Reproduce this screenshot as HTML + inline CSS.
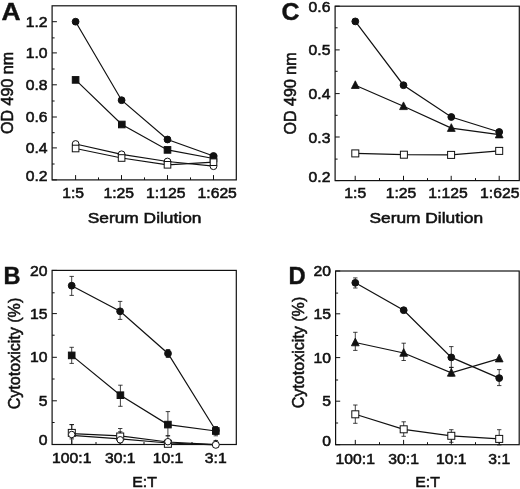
<!DOCTYPE html><html><head><meta charset="utf-8"><title>Figure</title>
<style>html,body{margin:0;padding:0;background:#fff;}svg{display:block;}text{font-family:"Liberation Sans",Arial,Helvetica,sans-serif;fill:#111;}.t,.tc{font-size:14.7px;stroke:#111;stroke-width:.55px;}.ax,.axc{font-size:15.5px;stroke:#111;stroke-width:.55px;}.p{font-size:24px;font-weight:bold;stroke:#111;stroke-width:.4px;}</style></head><body>
<svg width="520" height="489" viewBox="0 0 520 489">
<rect width="520" height="489" fill="#fff"/>
<rect x="52.1" y="5.8" width="184.2" height="174.1" fill="none" stroke="#111" stroke-width="1.2"/>
<line x1="52.1" y1="21.7" x2="56.9" y2="21.7" stroke="#111" stroke-width="1"/>
<text transform="translate(47.6,26.8) scale(1.07,1)" class="t" text-anchor="end">1.2</text>
<line x1="52.1" y1="52.9" x2="56.9" y2="52.9" stroke="#111" stroke-width="1"/>
<text transform="translate(47.6,58) scale(1.07,1)" class="t" text-anchor="end">1.0</text>
<line x1="52.1" y1="84.8" x2="56.9" y2="84.8" stroke="#111" stroke-width="1"/>
<text transform="translate(47.6,89.9) scale(1.07,1)" class="t" text-anchor="end">0.8</text>
<line x1="52.1" y1="117" x2="56.9" y2="117" stroke="#111" stroke-width="1"/>
<text transform="translate(47.6,122.1) scale(1.07,1)" class="t" text-anchor="end">0.6</text>
<line x1="52.1" y1="147.9" x2="56.9" y2="147.9" stroke="#111" stroke-width="1"/>
<text transform="translate(47.6,153) scale(1.07,1)" class="t" text-anchor="end">0.4</text>
<line x1="52.1" y1="179.9" x2="56.9" y2="179.9" stroke="#111" stroke-width="1"/>
<text transform="translate(47.6,181.3) scale(1.07,1)" class="t" text-anchor="end">0.2</text>
<line x1="52.1" y1="37.9" x2="54.6" y2="37.9" stroke="#111" stroke-width="1"/>
<line x1="52.1" y1="69" x2="54.6" y2="69" stroke="#111" stroke-width="1"/>
<line x1="52.1" y1="101" x2="54.6" y2="101" stroke="#111" stroke-width="1"/>
<line x1="52.1" y1="132.7" x2="54.6" y2="132.7" stroke="#111" stroke-width="1"/>
<line x1="52.1" y1="164" x2="54.6" y2="164" stroke="#111" stroke-width="1"/>
<line x1="75.6" y1="179.9" x2="75.6" y2="175.1" stroke="#111" stroke-width="1"/>
<text transform="translate(73.1,198) scale(1.07,1)" class="t" text-anchor="middle">1:5</text>
<line x1="121.5" y1="179.9" x2="121.5" y2="175.1" stroke="#111" stroke-width="1"/>
<text transform="translate(118.7,198) scale(1.07,1)" class="t" text-anchor="middle">1:25</text>
<line x1="167.5" y1="179.9" x2="167.5" y2="175.1" stroke="#111" stroke-width="1"/>
<text transform="translate(165.8,198) scale(1.07,1)" class="t" text-anchor="middle">1:125</text>
<line x1="213.5" y1="179.9" x2="213.5" y2="175.1" stroke="#111" stroke-width="1"/>
<text transform="translate(217.2,198) scale(1.07,1)" class="t" text-anchor="middle">1:625</text>
<line x1="98.5" y1="179.9" x2="98.5" y2="177.4" stroke="#111" stroke-width="1"/>
<line x1="144.5" y1="179.9" x2="144.5" y2="177.4" stroke="#111" stroke-width="1"/>
<line x1="190.5" y1="179.9" x2="190.5" y2="177.4" stroke="#111" stroke-width="1"/>
<text transform="translate(144.6,223) scale(1.12,1)" class="ax" text-anchor="middle">Serum Dilution</text>
<text transform="translate(13.3,92.9) rotate(-90) scale(0.98,1)" class="ax" style="font-size:16.4px" text-anchor="middle">OD 490 nm</text>
<text transform="translate(1.5,19.75) scale(1.1,1)" class="p" text-anchor="start">A</text>
<polyline points="75.6,21.7 121.6,100.2 167.5,139.5 213.5,156" fill="none" stroke="#111" stroke-width="1.2"/>
<polyline points="75.6,79.9 121.8,124.5 167.5,149.9 213.5,158.5" fill="none" stroke="#111" stroke-width="1.2"/>
<polyline points="75.6,148.5 121.6,158 167.5,164.8 213.5,162.2" fill="none" stroke="#111" stroke-width="1.2"/>
<polyline points="75.6,144 121.6,154.3 167.5,161.5 213.5,166.2" fill="none" stroke="#111" stroke-width="1.2"/>
<circle cx="75.6" cy="144" r="3.4" fill="#fff" stroke="#111" stroke-width="1"/>
<circle cx="121.6" cy="154.3" r="3.4" fill="#fff" stroke="#111" stroke-width="1"/>
<circle cx="167.5" cy="161.5" r="3.4" fill="#fff" stroke="#111" stroke-width="1"/>
<circle cx="213.5" cy="166.2" r="3.4" fill="#fff" stroke="#111" stroke-width="1"/>
<rect x="72.3" y="76.6" width="6.6" height="6.6" fill="#111" stroke="#111" stroke-width="1"/>
<rect x="118.5" y="121.2" width="6.6" height="6.6" fill="#111" stroke="#111" stroke-width="1"/>
<rect x="164.2" y="146.6" width="6.6" height="6.6" fill="#111" stroke="#111" stroke-width="1"/>
<rect x="210.2" y="155.2" width="6.6" height="6.6" fill="#111" stroke="#111" stroke-width="1"/>
<circle cx="75.6" cy="21.7" r="3.4" fill="#111" stroke="#111" stroke-width="1"/>
<circle cx="121.6" cy="100.2" r="3.4" fill="#111" stroke="#111" stroke-width="1"/>
<circle cx="167.5" cy="139.5" r="3.4" fill="#111" stroke="#111" stroke-width="1"/>
<circle cx="213.5" cy="156" r="3.4" fill="#111" stroke="#111" stroke-width="1"/>
<rect x="72.3" y="145.2" width="6.6" height="6.6" fill="#fff" stroke="#111" stroke-width="1"/>
<rect x="118.3" y="154.7" width="6.6" height="6.6" fill="#fff" stroke="#111" stroke-width="1"/>
<rect x="164.2" y="161.5" width="6.6" height="6.6" fill="#fff" stroke="#111" stroke-width="1"/>
<rect x="210.2" y="158.9" width="6.6" height="6.6" fill="#fff" stroke="#111" stroke-width="1"/>
<rect x="335.1" y="6.2" width="184.2" height="174.4" fill="none" stroke="#111" stroke-width="1.2"/>
<line x1="335.1" y1="6.2" x2="339.7" y2="6.2" stroke="#111" stroke-width="1"/>
<text transform="translate(330.4,11.8) scale(1.07,1)" class="tc" text-anchor="end">0.6</text>
<line x1="335.1" y1="49.9" x2="339.7" y2="49.9" stroke="#111" stroke-width="1"/>
<text transform="translate(330.4,54.8) scale(1.07,1)" class="tc" text-anchor="end">0.5</text>
<line x1="335.1" y1="93.6" x2="339.7" y2="93.6" stroke="#111" stroke-width="1"/>
<text transform="translate(330.4,98.8) scale(1.07,1)" class="tc" text-anchor="end">0.4</text>
<line x1="335.1" y1="137" x2="339.7" y2="137" stroke="#111" stroke-width="1"/>
<text transform="translate(330.4,142.8) scale(1.07,1)" class="tc" text-anchor="end">0.3</text>
<line x1="335.1" y1="180.6" x2="339.7" y2="180.6" stroke="#111" stroke-width="1"/>
<text transform="translate(330.4,181.7) scale(1.07,1)" class="tc" text-anchor="end">0.2</text>
<line x1="335.1" y1="27.8" x2="337.6" y2="27.8" stroke="#111" stroke-width="1"/>
<line x1="335.1" y1="71.3" x2="337.6" y2="71.3" stroke="#111" stroke-width="1"/>
<line x1="335.1" y1="115.3" x2="337.6" y2="115.3" stroke="#111" stroke-width="1"/>
<line x1="335.1" y1="159.1" x2="337.6" y2="159.1" stroke="#111" stroke-width="1"/>
<line x1="355.2" y1="180.6" x2="355.2" y2="175.8" stroke="#111" stroke-width="1"/>
<text transform="translate(355.2,198.2) scale(1.07,1)" class="tc" text-anchor="middle">1:5</text>
<line x1="403.5" y1="180.6" x2="403.5" y2="175.8" stroke="#111" stroke-width="1"/>
<text transform="translate(401,198.2) scale(1.07,1)" class="tc" text-anchor="middle">1:25</text>
<line x1="451.2" y1="180.6" x2="451.2" y2="175.8" stroke="#111" stroke-width="1"/>
<text transform="translate(448,198.2) scale(1.07,1)" class="tc" text-anchor="middle">1:125</text>
<line x1="499.2" y1="180.6" x2="499.2" y2="175.8" stroke="#111" stroke-width="1"/>
<text transform="translate(499.8,198.2) scale(1.07,1)" class="tc" text-anchor="middle">1:625</text>
<line x1="379.5" y1="180.6" x2="379.5" y2="178.1" stroke="#111" stroke-width="1"/>
<line x1="427.5" y1="180.6" x2="427.5" y2="178.1" stroke="#111" stroke-width="1"/>
<line x1="475.5" y1="180.6" x2="475.5" y2="178.1" stroke="#111" stroke-width="1"/>
<text transform="translate(426.3,223) scale(1.12,1)" class="axc" text-anchor="middle">Serum Dilution</text>
<text transform="translate(295.6,93.4) rotate(-90) scale(0.98,1)" class="axc" style="font-size:16.4px" text-anchor="middle">OD 490 nm</text>
<text transform="translate(281.6,19.5) scale(1.04,1)" class="p" text-anchor="start">C</text>
<polyline points="355.3,21.4 403.5,85.2 451.3,117 499.2,132" fill="none" stroke="#111" stroke-width="1.2"/>
<polyline points="355.3,85.2 403.5,106.3 451.3,128.1 499.2,134.6" fill="none" stroke="#111" stroke-width="1.2"/>
<polyline points="355.3,153.4 403.9,154.7 451.1,154.9 499.2,150.9" fill="none" stroke="#111" stroke-width="1.2"/>
<polygon points="355.3,80.8 351.4,88.5 359.2,88.5" fill="#111" stroke="#111" stroke-width="0.8" stroke-linejoin="round"/>
<polygon points="403.5,101.9 399.6,109.6 407.4,109.6" fill="#111" stroke="#111" stroke-width="0.8" stroke-linejoin="round"/>
<polygon points="451.3,123.7 447.4,131.4 455.2,131.4" fill="#111" stroke="#111" stroke-width="0.8" stroke-linejoin="round"/>
<polygon points="499.2,130.2 495.3,137.9 503.1,137.9" fill="#111" stroke="#111" stroke-width="0.8" stroke-linejoin="round"/>
<circle cx="355.3" cy="21.4" r="3.4" fill="#111" stroke="#111" stroke-width="1"/>
<circle cx="403.5" cy="85.2" r="3.4" fill="#111" stroke="#111" stroke-width="1"/>
<circle cx="451.3" cy="117" r="3.4" fill="#111" stroke="#111" stroke-width="1"/>
<circle cx="499.2" cy="132" r="3.4" fill="#111" stroke="#111" stroke-width="1"/>
<rect x="351.8" y="149.9" width="7.0" height="7.0" fill="#fff" stroke="#111" stroke-width="1"/>
<rect x="400.4" y="151.2" width="7.0" height="7.0" fill="#fff" stroke="#111" stroke-width="1"/>
<rect x="447.6" y="151.4" width="7.0" height="7.0" fill="#fff" stroke="#111" stroke-width="1"/>
<rect x="495.7" y="147.4" width="7.0" height="7.0" fill="#fff" stroke="#111" stroke-width="1"/>
<rect x="52.1" y="270.4" width="184.2" height="174.1" fill="none" stroke="#111" stroke-width="1.2"/>
<line x1="52.1" y1="270.4" x2="56.9" y2="270.4" stroke="#111" stroke-width="1"/>
<text transform="translate(47.4,275.5) scale(1.07,1)" class="t" text-anchor="end">20</text>
<line x1="52.1" y1="313.6" x2="56.9" y2="313.6" stroke="#111" stroke-width="1"/>
<text transform="translate(47.4,318.7) scale(1.07,1)" class="t" text-anchor="end">15</text>
<line x1="52.1" y1="357.3" x2="56.9" y2="357.3" stroke="#111" stroke-width="1"/>
<text transform="translate(47.4,362.4) scale(1.07,1)" class="t" text-anchor="end">10</text>
<line x1="52.1" y1="400.8" x2="56.9" y2="400.8" stroke="#111" stroke-width="1"/>
<text transform="translate(47.4,405.9) scale(1.07,1)" class="t" text-anchor="end">5</text>
<line x1="52.1" y1="444.5" x2="56.9" y2="444.5" stroke="#111" stroke-width="1"/>
<text transform="translate(47.4,445.2) scale(1.07,1)" class="t" text-anchor="end">0</text>
<line x1="52.1" y1="292.8" x2="54.6" y2="292.8" stroke="#111" stroke-width="1"/>
<line x1="52.1" y1="335.2" x2="54.6" y2="335.2" stroke="#111" stroke-width="1"/>
<line x1="52.1" y1="379" x2="54.6" y2="379" stroke="#111" stroke-width="1"/>
<line x1="52.1" y1="422.5" x2="54.6" y2="422.5" stroke="#111" stroke-width="1"/>
<line x1="71.8" y1="444.5" x2="71.8" y2="439.7" stroke="#111" stroke-width="1"/>
<text transform="translate(71.8,463.2) scale(1.07,1)" class="t" text-anchor="middle">100:1</text>
<line x1="120.2" y1="444.5" x2="120.2" y2="439.7" stroke="#111" stroke-width="1"/>
<text transform="translate(120.2,463.2) scale(1.07,1)" class="t" text-anchor="middle">30:1</text>
<line x1="168" y1="444.5" x2="168" y2="439.7" stroke="#111" stroke-width="1"/>
<text transform="translate(168,463.2) scale(1.07,1)" class="t" text-anchor="middle">10:1</text>
<line x1="215.8" y1="444.5" x2="215.8" y2="439.7" stroke="#111" stroke-width="1"/>
<text transform="translate(215.8,463.2) scale(1.07,1)" class="t" text-anchor="middle">3:1</text>
<line x1="96" y1="444.5" x2="96" y2="442" stroke="#111" stroke-width="1"/>
<line x1="144" y1="444.5" x2="144" y2="442" stroke="#111" stroke-width="1"/>
<line x1="192" y1="444.5" x2="192" y2="442" stroke="#111" stroke-width="1"/>
<text transform="translate(144.6,486.5) scale(1.02,1)" class="ax" text-anchor="middle">E:T</text>
<text transform="translate(20,353.5) rotate(-90) scale(0.98,1)" class="ax" style="font-size:16.4px" text-anchor="middle">Cytotoxicity (%)</text>
<text transform="translate(3.5,284.3) scale(0.98,1)" class="p" text-anchor="start">B</text>
<line x1="71.7" y1="276.4" x2="71.7" y2="295.4" stroke="#111" stroke-width="0.8"/>
<line x1="69.5" y1="276.4" x2="73.9" y2="276.4" stroke="#111" stroke-width="0.8"/>
<line x1="69.5" y1="295.4" x2="73.9" y2="295.4" stroke="#111" stroke-width="0.8"/>
<line x1="120.1" y1="301.4" x2="120.1" y2="319.4" stroke="#111" stroke-width="0.8"/>
<line x1="117.9" y1="301.4" x2="122.3" y2="301.4" stroke="#111" stroke-width="0.8"/>
<line x1="117.9" y1="319.4" x2="122.3" y2="319.4" stroke="#111" stroke-width="0.8"/>
<line x1="168" y1="349.5" x2="168" y2="357.5" stroke="#111" stroke-width="0.8"/>
<line x1="165.8" y1="349.5" x2="170.2" y2="349.5" stroke="#111" stroke-width="0.8"/>
<line x1="165.8" y1="357.5" x2="170.2" y2="357.5" stroke="#111" stroke-width="0.8"/>
<line x1="215.8" y1="426.5" x2="215.8" y2="434.5" stroke="#111" stroke-width="0.8"/>
<line x1="213.6" y1="426.5" x2="218" y2="426.5" stroke="#111" stroke-width="0.8"/>
<line x1="213.6" y1="434.5" x2="218" y2="434.5" stroke="#111" stroke-width="0.8"/>
<line x1="71.7" y1="347.3" x2="71.7" y2="363.4" stroke="#111" stroke-width="0.8"/>
<line x1="69.5" y1="347.3" x2="73.9" y2="347.3" stroke="#111" stroke-width="0.8"/>
<line x1="69.5" y1="363.4" x2="73.9" y2="363.4" stroke="#111" stroke-width="0.8"/>
<line x1="120.4" y1="385.2" x2="120.4" y2="406.3" stroke="#111" stroke-width="0.8"/>
<line x1="118.2" y1="385.2" x2="122.6" y2="385.2" stroke="#111" stroke-width="0.8"/>
<line x1="118.2" y1="406.3" x2="122.6" y2="406.3" stroke="#111" stroke-width="0.8"/>
<line x1="167.9" y1="411.6" x2="167.9" y2="435.8" stroke="#111" stroke-width="0.8"/>
<line x1="165.7" y1="411.6" x2="170.1" y2="411.6" stroke="#111" stroke-width="0.8"/>
<line x1="165.7" y1="435.8" x2="170.1" y2="435.8" stroke="#111" stroke-width="0.8"/>
<line x1="215.8" y1="427" x2="215.8" y2="435.8" stroke="#111" stroke-width="0.8"/>
<line x1="213.6" y1="427" x2="218" y2="427" stroke="#111" stroke-width="0.8"/>
<line x1="213.6" y1="435.8" x2="218" y2="435.8" stroke="#111" stroke-width="0.8"/>
<line x1="71.8" y1="424.6" x2="71.8" y2="438.9" stroke="#111" stroke-width="0.8"/>
<line x1="69.6" y1="424.6" x2="74" y2="424.6" stroke="#111" stroke-width="0.8"/>
<line x1="69.6" y1="438.9" x2="74" y2="438.9" stroke="#111" stroke-width="0.8"/>
<line x1="120.2" y1="428.5" x2="120.2" y2="442.5" stroke="#111" stroke-width="0.8"/>
<line x1="118" y1="428.5" x2="122.4" y2="428.5" stroke="#111" stroke-width="0.8"/>
<line x1="118" y1="442.5" x2="122.4" y2="442.5" stroke="#111" stroke-width="0.8"/>
<line x1="71.7" y1="424.6" x2="71.7" y2="444.5" stroke="#111" stroke-width="0.8"/>
<line x1="69.5" y1="424.6" x2="73.9" y2="424.6" stroke="#111" stroke-width="0.8"/>
<line x1="69.5" y1="444.5" x2="73.9" y2="444.5" stroke="#111" stroke-width="0.8"/>
<line x1="120.2" y1="431.8" x2="120.2" y2="444.3" stroke="#111" stroke-width="0.8"/>
<line x1="118" y1="431.8" x2="122.4" y2="431.8" stroke="#111" stroke-width="0.8"/>
<line x1="118" y1="444.3" x2="122.4" y2="444.3" stroke="#111" stroke-width="0.8"/>
<line x1="167.9" y1="435.8" x2="167.9" y2="444.7" stroke="#111" stroke-width="0.8"/>
<line x1="165.7" y1="435.8" x2="170.1" y2="435.8" stroke="#111" stroke-width="0.8"/>
<line x1="165.7" y1="444.7" x2="170.1" y2="444.7" stroke="#111" stroke-width="0.8"/>
<line x1="215.8" y1="440.5" x2="215.8" y2="445.8" stroke="#111" stroke-width="0.8"/>
<line x1="213.6" y1="440.5" x2="218" y2="440.5" stroke="#111" stroke-width="0.8"/>
<line x1="213.6" y1="445.8" x2="218" y2="445.8" stroke="#111" stroke-width="0.8"/>
<polyline points="71.7,285.7 120.1,311.3 168,353.5 215.8,430.5" fill="none" stroke="#111" stroke-width="1.2"/>
<polyline points="71.7,355.4 120.4,395.2 167.9,424.6 215.8,431" fill="none" stroke="#111" stroke-width="1.2"/>
<polyline points="71.8,433.6 120.2,435.8 167.9,442 215.8,444.6" fill="none" stroke="#111" stroke-width="1.2"/>
<polyline points="71.7,435.3 120.2,438.8 167.9,443 215.8,444.8" fill="none" stroke="#111" stroke-width="1.2"/>
<rect x="68.4" y="352.1" width="6.6" height="6.6" fill="#111" stroke="#111" stroke-width="1"/>
<rect x="117.1" y="391.9" width="6.6" height="6.6" fill="#111" stroke="#111" stroke-width="1"/>
<rect x="164.6" y="421.3" width="6.6" height="6.6" fill="#111" stroke="#111" stroke-width="1"/>
<rect x="212.5" y="427.7" width="6.6" height="6.6" fill="#111" stroke="#111" stroke-width="1"/>
<circle cx="71.7" cy="285.7" r="3.4" fill="#111" stroke="#111" stroke-width="1"/>
<circle cx="120.1" cy="311.3" r="3.4" fill="#111" stroke="#111" stroke-width="1"/>
<circle cx="168" cy="353.5" r="3.4" fill="#111" stroke="#111" stroke-width="1"/>
<circle cx="215.8" cy="430.5" r="3.4" fill="#111" stroke="#111" stroke-width="1"/>
<rect x="68.3" y="429.4" width="7.0" height="7.0" fill="#fff" stroke="#111" stroke-width="1"/>
<rect x="116.7" y="433" width="7.0" height="7.0" fill="#fff" stroke="#111" stroke-width="1"/>
<rect x="164.4" y="440.3" width="7.0" height="7.0" fill="#fff" stroke="#111" stroke-width="1"/>
<rect x="213.4" y="442.2" width="4.8" height="4.8" fill="#fff" stroke="#111" stroke-width="1"/>
<circle cx="71.7" cy="434.5" r="3.25" fill="#fff" stroke="#111" stroke-width="1"/>
<circle cx="120.2" cy="439.8" r="3.25" fill="#fff" stroke="#111" stroke-width="1"/>
<circle cx="167.9" cy="441.7" r="3.25" fill="#fff" stroke="#111" stroke-width="1"/>
<circle cx="215.8" cy="444.8" r="3.5" fill="#fff" stroke="#111" stroke-width="1"/>
<rect x="335.6" y="271" width="183.6" height="173.7" fill="none" stroke="#111" stroke-width="1.2"/>
<line x1="335.6" y1="271" x2="340.2" y2="271" stroke="#111" stroke-width="1"/>
<text transform="translate(330.9,276.2) scale(1.07,1)" class="tc" text-anchor="end">20</text>
<line x1="335.6" y1="313.8" x2="340.2" y2="313.8" stroke="#111" stroke-width="1"/>
<text transform="translate(330.9,319) scale(1.07,1)" class="tc" text-anchor="end">15</text>
<line x1="335.6" y1="357.6" x2="340.2" y2="357.6" stroke="#111" stroke-width="1"/>
<text transform="translate(330.9,362.8) scale(1.07,1)" class="tc" text-anchor="end">10</text>
<line x1="335.6" y1="401.2" x2="340.2" y2="401.2" stroke="#111" stroke-width="1"/>
<text transform="translate(330.9,406.4) scale(1.07,1)" class="tc" text-anchor="end">5</text>
<line x1="335.6" y1="444.7" x2="340.2" y2="444.7" stroke="#111" stroke-width="1"/>
<text transform="translate(330.9,445.8) scale(1.07,1)" class="tc" text-anchor="end">0</text>
<line x1="335.6" y1="293.1" x2="338.1" y2="293.1" stroke="#111" stroke-width="1"/>
<line x1="335.6" y1="335.5" x2="338.1" y2="335.5" stroke="#111" stroke-width="1"/>
<line x1="335.6" y1="380" x2="338.1" y2="380" stroke="#111" stroke-width="1"/>
<line x1="335.6" y1="423" x2="338.1" y2="423" stroke="#111" stroke-width="1"/>
<line x1="355.3" y1="444.7" x2="355.3" y2="439.9" stroke="#111" stroke-width="1"/>
<text transform="translate(355.3,463.5) scale(1.07,1)" class="tc" text-anchor="middle">100:1</text>
<line x1="403.6" y1="444.7" x2="403.6" y2="439.9" stroke="#111" stroke-width="1"/>
<text transform="translate(403.6,463.5) scale(1.07,1)" class="tc" text-anchor="middle">30:1</text>
<line x1="451.3" y1="444.7" x2="451.3" y2="439.9" stroke="#111" stroke-width="1"/>
<text transform="translate(451.3,463.5) scale(1.07,1)" class="tc" text-anchor="middle">10:1</text>
<line x1="499.2" y1="444.7" x2="499.2" y2="439.9" stroke="#111" stroke-width="1"/>
<text transform="translate(499.2,463.5) scale(1.07,1)" class="tc" text-anchor="middle">3:1</text>
<line x1="379.5" y1="444.7" x2="379.5" y2="442.2" stroke="#111" stroke-width="1"/>
<line x1="427.5" y1="444.7" x2="427.5" y2="442.2" stroke="#111" stroke-width="1"/>
<line x1="475.5" y1="444.7" x2="475.5" y2="442.2" stroke="#111" stroke-width="1"/>
<text transform="translate(427.5,486.5) scale(1.02,1)" class="axc" text-anchor="middle">E:T</text>
<text transform="translate(303.5,352.5) rotate(-90) scale(0.98,1)" class="axc" style="font-size:16.4px" text-anchor="middle">Cytotoxicity (%)</text>
<text transform="translate(288.6,284.3) scale(0.99,1)" class="p" text-anchor="start">D</text>
<line x1="355.3" y1="277.9" x2="355.3" y2="288" stroke="#111" stroke-width="0.8"/>
<line x1="353.1" y1="277.9" x2="357.5" y2="277.9" stroke="#111" stroke-width="0.8"/>
<line x1="353.1" y1="288" x2="357.5" y2="288" stroke="#111" stroke-width="0.8"/>
<line x1="403.7" y1="308.2" x2="403.7" y2="312.2" stroke="#111" stroke-width="0.8"/>
<line x1="401.5" y1="308.2" x2="405.9" y2="308.2" stroke="#111" stroke-width="0.8"/>
<line x1="401.5" y1="312.2" x2="405.9" y2="312.2" stroke="#111" stroke-width="0.8"/>
<line x1="451.3" y1="346.6" x2="451.3" y2="367.4" stroke="#111" stroke-width="0.8"/>
<line x1="449.1" y1="346.6" x2="453.5" y2="346.6" stroke="#111" stroke-width="0.8"/>
<line x1="449.1" y1="367.4" x2="453.5" y2="367.4" stroke="#111" stroke-width="0.8"/>
<line x1="499.2" y1="369.6" x2="499.2" y2="385.6" stroke="#111" stroke-width="0.8"/>
<line x1="497" y1="369.6" x2="501.4" y2="369.6" stroke="#111" stroke-width="0.8"/>
<line x1="497" y1="385.6" x2="501.4" y2="385.6" stroke="#111" stroke-width="0.8"/>
<line x1="355.3" y1="332.3" x2="355.3" y2="350.4" stroke="#111" stroke-width="0.8"/>
<line x1="353.1" y1="332.3" x2="357.5" y2="332.3" stroke="#111" stroke-width="0.8"/>
<line x1="353.1" y1="350.4" x2="357.5" y2="350.4" stroke="#111" stroke-width="0.8"/>
<line x1="403.7" y1="343.2" x2="403.7" y2="360.5" stroke="#111" stroke-width="0.8"/>
<line x1="401.5" y1="343.2" x2="405.9" y2="343.2" stroke="#111" stroke-width="0.8"/>
<line x1="401.5" y1="360.5" x2="405.9" y2="360.5" stroke="#111" stroke-width="0.8"/>
<line x1="451.3" y1="367.4" x2="451.3" y2="375.9" stroke="#111" stroke-width="0.8"/>
<line x1="449.1" y1="367.4" x2="453.5" y2="367.4" stroke="#111" stroke-width="0.8"/>
<line x1="449.1" y1="375.9" x2="453.5" y2="375.9" stroke="#111" stroke-width="0.8"/>
<line x1="355.3" y1="405" x2="355.3" y2="423.3" stroke="#111" stroke-width="0.8"/>
<line x1="353.1" y1="405" x2="357.5" y2="405" stroke="#111" stroke-width="0.8"/>
<line x1="353.1" y1="423.3" x2="357.5" y2="423.3" stroke="#111" stroke-width="0.8"/>
<line x1="403.7" y1="421.8" x2="403.7" y2="436.3" stroke="#111" stroke-width="0.8"/>
<line x1="401.5" y1="421.8" x2="405.9" y2="421.8" stroke="#111" stroke-width="0.8"/>
<line x1="401.5" y1="436.3" x2="405.9" y2="436.3" stroke="#111" stroke-width="0.8"/>
<line x1="451.3" y1="429.7" x2="451.3" y2="442.3" stroke="#111" stroke-width="0.8"/>
<line x1="449.1" y1="429.7" x2="453.5" y2="429.7" stroke="#111" stroke-width="0.8"/>
<line x1="449.1" y1="442.3" x2="453.5" y2="442.3" stroke="#111" stroke-width="0.8"/>
<line x1="499.2" y1="429.7" x2="499.2" y2="444.9" stroke="#111" stroke-width="0.8"/>
<line x1="497" y1="429.7" x2="501.4" y2="429.7" stroke="#111" stroke-width="0.8"/>
<line x1="497" y1="444.9" x2="501.4" y2="444.9" stroke="#111" stroke-width="0.8"/>
<polyline points="355.3,282.8 403.7,310.2 451.3,357.4 499.2,378.1" fill="none" stroke="#111" stroke-width="1.2"/>
<polyline points="355.3,342.5 403.7,353 451.3,372.9 499.2,358.6" fill="none" stroke="#111" stroke-width="1.2"/>
<polyline points="355.3,414.3 403.7,429.3 451.3,435.8 499.2,438.9" fill="none" stroke="#111" stroke-width="1.2"/>
<polygon points="355.3,338.1 351.4,345.8 359.2,345.8" fill="#111" stroke="#111" stroke-width="0.8" stroke-linejoin="round"/>
<polygon points="403.7,348.6 399.8,356.3 407.6,356.3" fill="#111" stroke="#111" stroke-width="0.8" stroke-linejoin="round"/>
<polygon points="451.3,368.5 447.4,376.2 455.2,376.2" fill="#111" stroke="#111" stroke-width="0.8" stroke-linejoin="round"/>
<polygon points="499.2,354.2 495.3,361.9 503.1,361.9" fill="#111" stroke="#111" stroke-width="0.8" stroke-linejoin="round"/>
<circle cx="355.3" cy="282.8" r="3.4" fill="#111" stroke="#111" stroke-width="1"/>
<circle cx="403.7" cy="310.2" r="3.4" fill="#111" stroke="#111" stroke-width="1"/>
<circle cx="451.3" cy="357.4" r="3.4" fill="#111" stroke="#111" stroke-width="1"/>
<circle cx="499.2" cy="378.1" r="3.4" fill="#111" stroke="#111" stroke-width="1"/>
<rect x="351.8" y="410.8" width="7.0" height="7.0" fill="#fff" stroke="#111" stroke-width="1"/>
<rect x="400.2" y="425.8" width="7.0" height="7.0" fill="#fff" stroke="#111" stroke-width="1"/>
<rect x="447.8" y="432.3" width="7.0" height="7.0" fill="#fff" stroke="#111" stroke-width="1"/>
<rect x="495.7" y="435.4" width="7.0" height="7.0" fill="#fff" stroke="#111" stroke-width="1"/>
</svg></body></html>
